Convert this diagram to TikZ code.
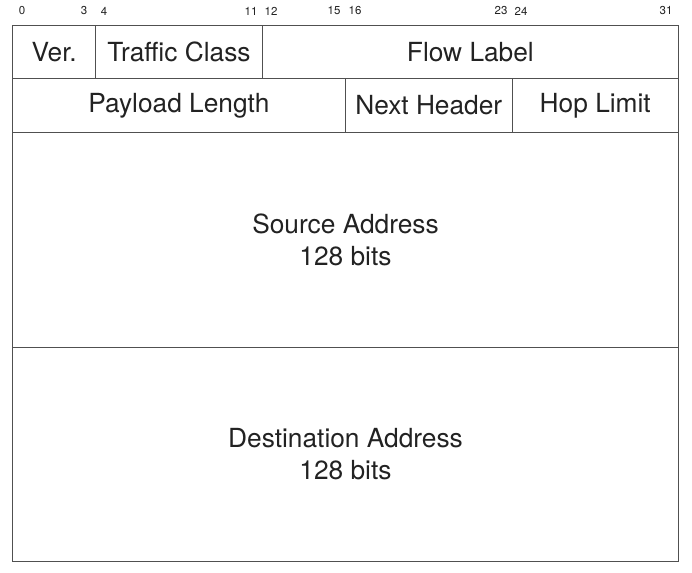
\documentclass[tikz,border=0pt]{standalone}
\usepackage{fontspec}
\setmainfont{TeX Gyre Heros}
\definecolor{linecol}{HTML}{505050}
\definecolor{txtcol}{HTML}{222222}
\begin{document}
\begin{tikzpicture}[x=1pt,y=-1pt,
  cell/.style={draw=linecol, line width=1pt, anchor=north west, inner sep=0pt,
    text=txtcol, font=\fontsize{26.3}{32}\selectfont, align=center},
  bitnum/.style={text=txtcol, font=\fontsize{11.5}{13}\selectfont, inner sep=0pt}]
\useasboundingbox (0,0) rectangle (692,572);
\def\bw{20.8125}
% row 1
\node[cell, minimum width=4*\bw, minimum height=53] (ver) at (12,25) {Ver.};
\node[cell, minimum width=8*\bw, minimum height=53] (tc) at ({12+4*\bw},25) {Traffic Class};
\node[cell, minimum width=20*\bw, minimum height=53] (fl) at ({12+12*\bw},25) {Flow Label};
% row 2
\node[cell, minimum width=16*\bw, minimum height=54] (pl) at (12,78) {Payload Length};
\node[cell, minimum width=8*\bw, minimum height=54] (nh) at ({12+16*\bw},78) {Next Header};
\node[cell, minimum width=8*\bw, minimum height=54] (hl) at ({12+24*\bw},78) {Hop Limit};
% addresses
\node[cell, minimum width=32*\bw, minimum height=215] (src) at (12,132) {Source Address\\128 bits};
\node[cell, minimum width=32*\bw, minimum height=214] (dst) at (12,347) {Destination Address\\128 bits};
% bit numbers
\node[bitnum] (b0) at (22,11) {0};
\node[bitnum] (b3) at (84,11) {3};
\node[bitnum] (b4) at (104,11) {4};
\node[bitnum] (b11) at (251,11) {11};
\node[bitnum] (b12) at (271,11) {12};
\node[bitnum] (b15) at (334,11) {15};
\node[bitnum] (b16) at (355,11) {16};
\node[bitnum] (b23) at (501,11) {23};
\node[bitnum] (b24) at (521,11) {24};
\node[bitnum] (b31) at (666,11) {31};
\end{tikzpicture}
\end{document}
